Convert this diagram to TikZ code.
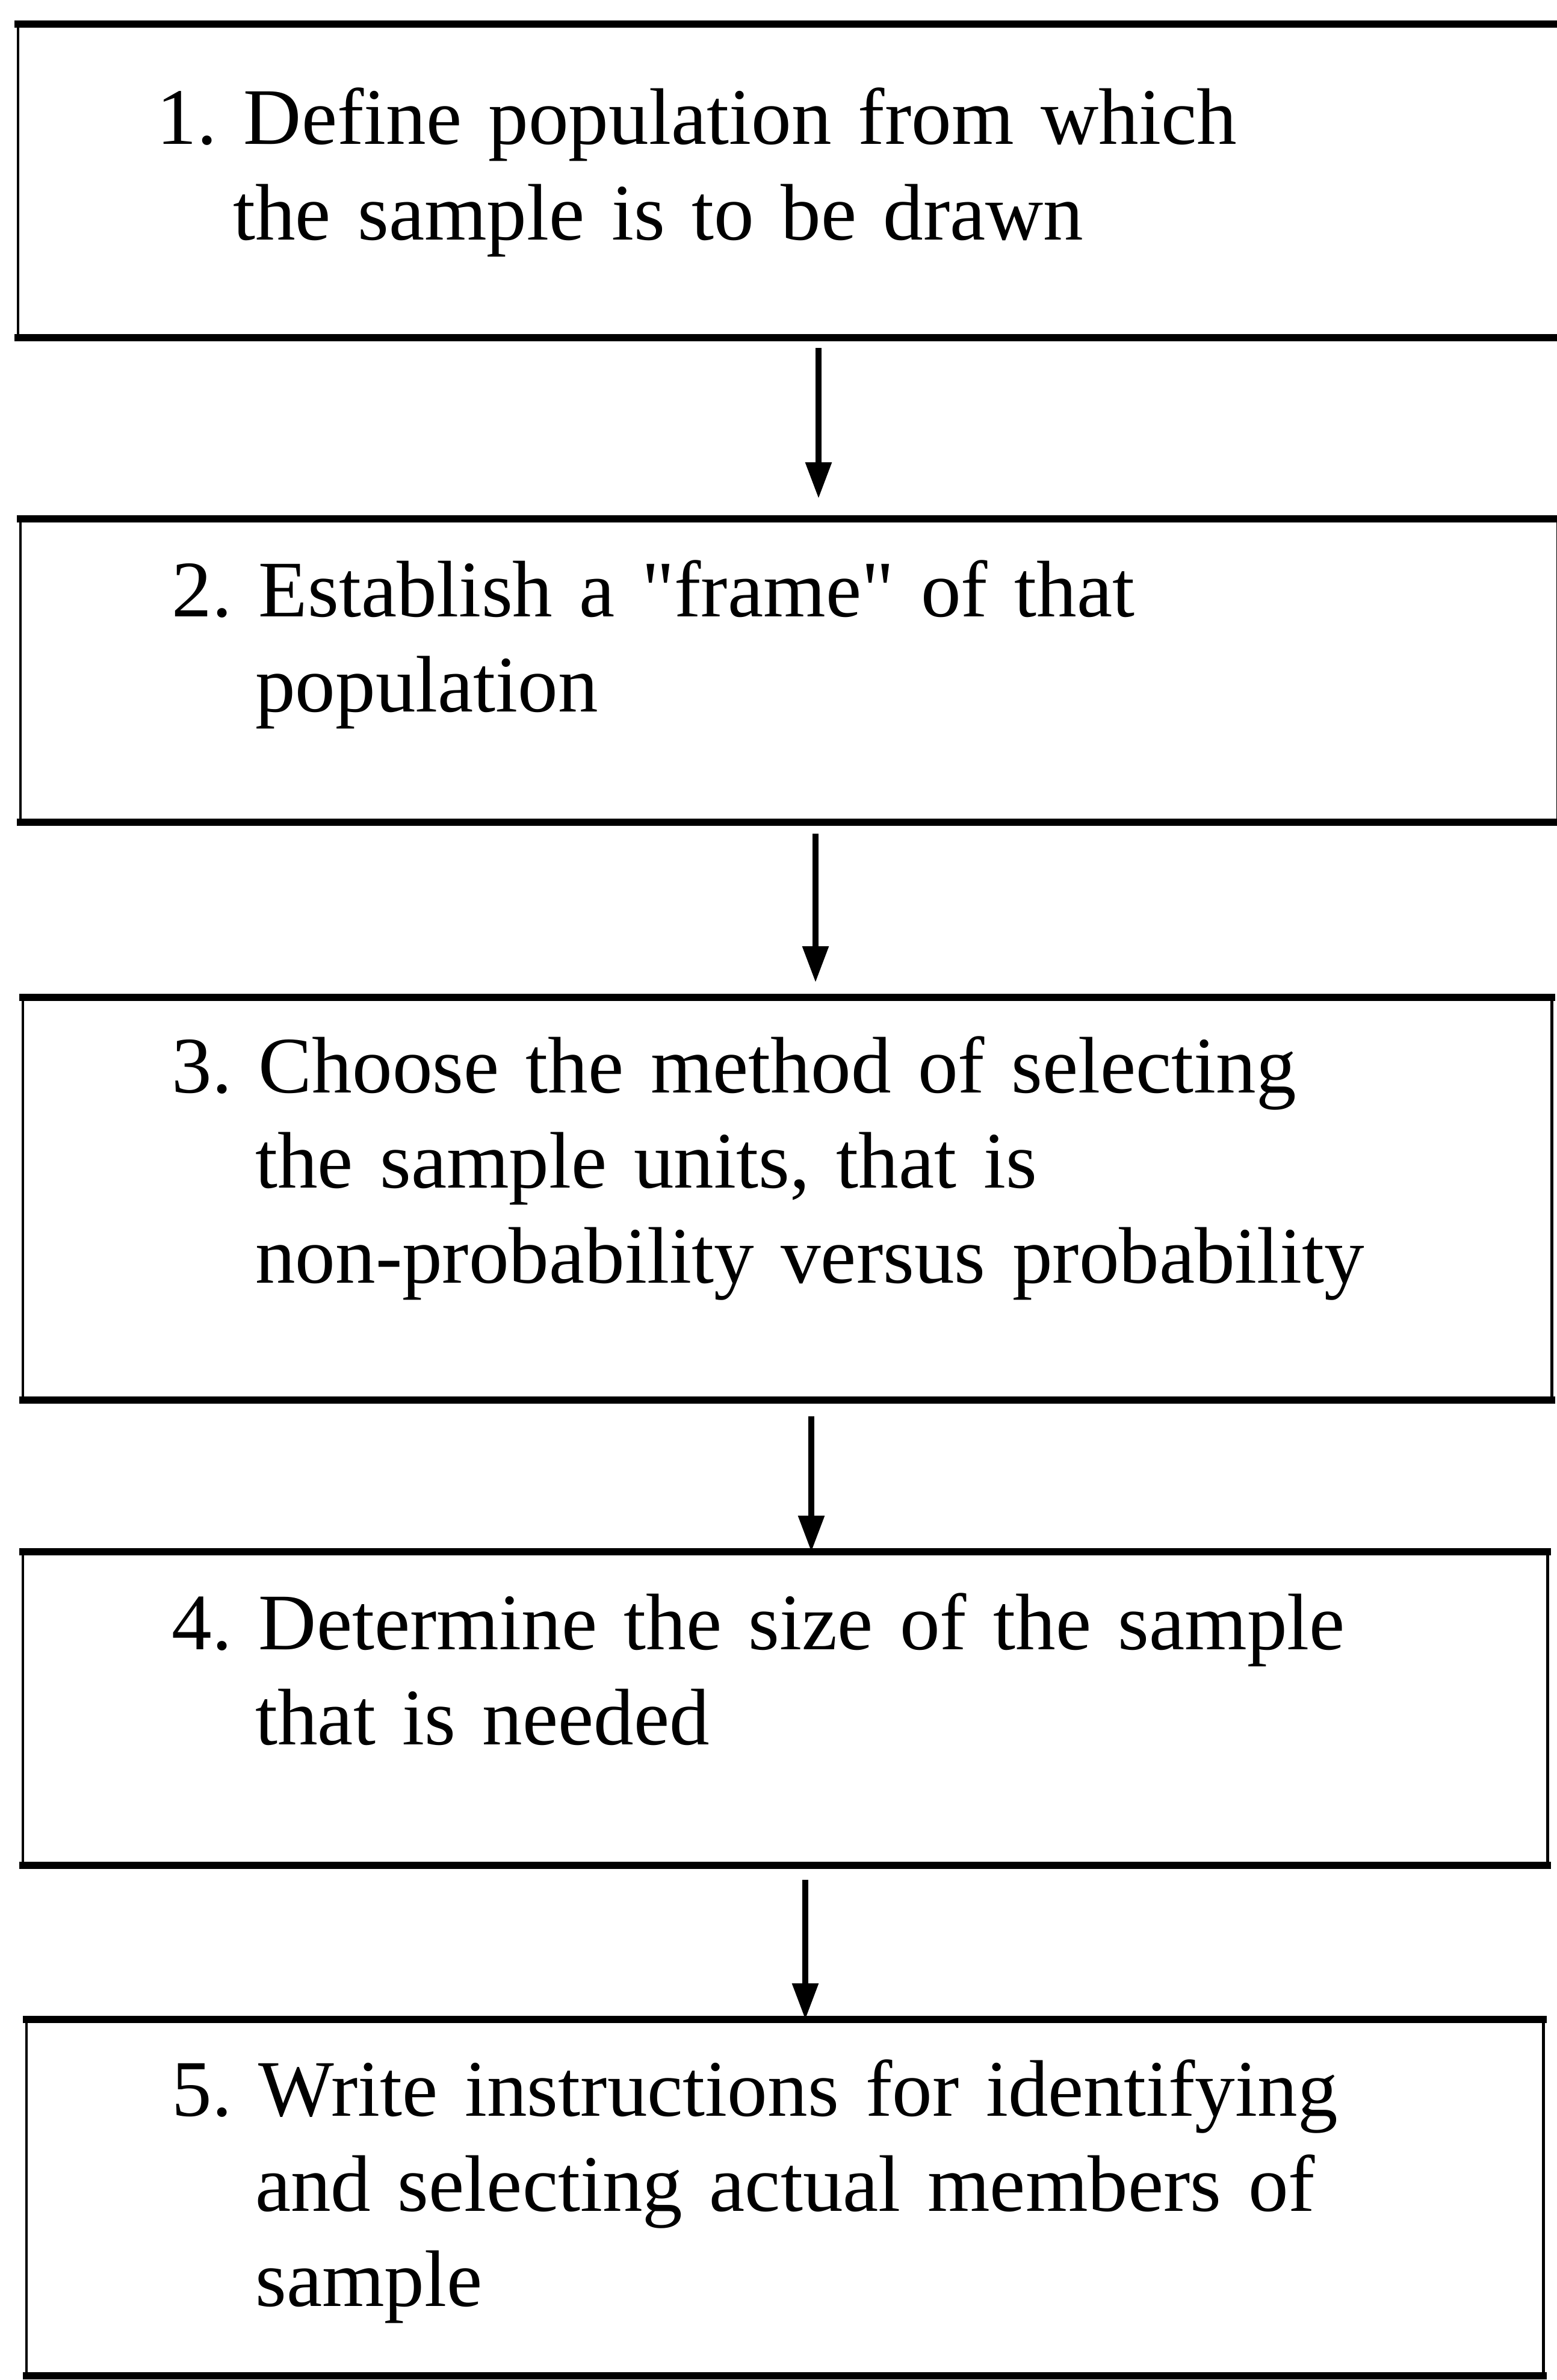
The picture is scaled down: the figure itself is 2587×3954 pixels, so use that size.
\documentclass[tikz,border=0pt]{standalone}
\usepackage{fontspec}
\setmainfont{Liberation Serif}[Ligatures=TeXOff]
\usetikzlibrary{arrows.meta}
% indent of the continuation lines, about the width of the step number
\newcommand{\stepindent}{\hspace*{1.04em}}
\begin{document}
\begin{tikzpicture}[x=0.1mm,y=-0.1mm,
  frame/.style={draw=none,inner sep=0pt,anchor=north west},
  hline/.style={line width=3.4pt,line cap=rect},
  vline/.style={line width=1.4pt},
  flow/.style={line width=2.6pt,-{Triangle[length=6mm,width=4.2mm]}},
  steptext/.style={anchor=base west,inner sep=0pt,text width=230mm,align=left,
    font=\fontsize{37.9pt}{45pt}\selectfont\frenchspacing}
]
\useasboundingbox (0,0) rectangle (2587,3954);

% step boxes (outline only; edges drawn below)
\node[frame,minimum width=259mm,minimum height=52mm]   (b1) at (30,40)   {};
\node[frame,minimum width=255.3mm,minimum height=50.3mm] (b2) at (34,862)  {};
\node[frame,minimum width=253.9mm,minimum height=66.8mm] (b3) at (38,1657) {};
\node[frame,minimum width=253.2mm,minimum height=52mm]   (b4) at (38,2578) {};
\node[frame,minimum width=251.9mm,minimum height=59.1mm] (b5) at (44,3355) {};

\foreach \b in {b1,b2,b3,b4,b5}{
  \draw[hline] (\b.north west) -- (\b.north east);
  \draw[hline] (\b.south west) -- (\b.south east);
  \draw[vline] (\b.north west) -- (\b.south west);
  \draw[vline] (\b.north east) -- (\b.south east);
}

% step texts
\node[steptext] (t1) at (260,240)
  {1. Define population from which\\\hspace*{0.95em}the sample is to be drawn};
\node[steptext] (t2) at (285,1024)
  {2. Establish a "frame" of that\\\stepindent population};
\node[steptext] (t3) at (285,1815)
  {3. Choose the method of selecting\\\stepindent the sample units, that is\\\stepindent non-probability versus probability};
\node[steptext] (t4) at (285,2740)
  {4. Determine the size of the sample\\\stepindent that is needed};
\node[steptext] (t5) at (285,3515)
  {5. Write instructions for identifying\\\stepindent and selecting actual members of\\\stepindent sample};

% connectors
\coordinate (a1s) at (1360,578);
\coordinate (a1e) at (1360,828);
\coordinate (a2s) at (1355,1385);
\coordinate (a2e) at (1355,1632);
\coordinate (a3s) at (1348,2353);
\coordinate (a4s) at (1338,3123);
\draw[flow] (a1s) -- (a1e);
\draw[flow] (a2s) -- (a2e);
\draw[flow] (a3s) -- (a3s |- b4.north);
\draw[flow] (a4s) -- (a4s |- b5.north);
\end{tikzpicture}
\end{document}
